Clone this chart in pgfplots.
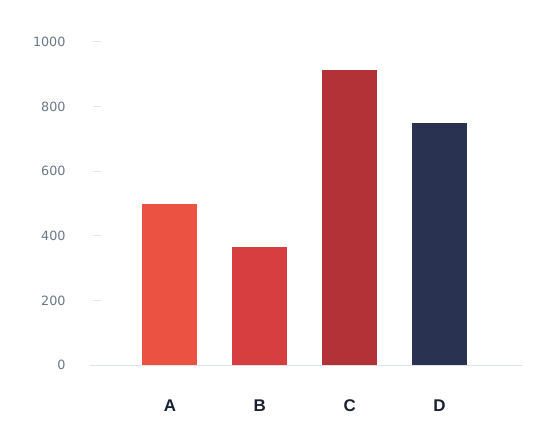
\documentclass[border=0pt]{standalone}
\usepackage{fontspec}
\setmainfont{Liberation Sans}
\newfontfamily\tickfont{DejaVu Sans}
\usepackage{pgfplots}
\pgfplotsset{compat=1.18}

\definecolor{barA}{HTML}{EB5242}
\definecolor{barB}{HTML}{D63E3F}
\definecolor{barC}{HTML}{B33237}
\definecolor{barD}{HTML}{293250}
\definecolor{tickgray}{HTML}{6B7785}
\definecolor{linegray}{HTML}{DDE3EA}
\definecolor{labeldark}{HTML}{1A2033}

\begin{document}
\begin{tikzpicture}[x=1bp,y=1bp]
  \path[use as bounding box] (0,0) rectangle (554,432);
  \begin{axis}[
      at={(93bp,67bp)}, anchor=south west,
      scale only axis,
      width=430bp, height=323bp,
      xmin=-0.857, xmax=3.93,
      ymin=0, ymax=1000,
      ytick={0,200,...,1000},
      xtick={0,1,2,3},
      xticklabels={A,B,C,D},
      axis line style={draw=none},
      tick align=inside,
      x tick style={draw=none},
      y tick style={draw=linegray, line width=1bp},
      major tick length=8bp,
      tick pos=left,
      /pgf/number format/assume math mode=true,
      /pgf/number format/1000 sep={},
      yticklabel style={font=\tickfont\fontsize{12.8}{14}\selectfont, text=tickgray, anchor=east, xshift=-24bp},
      xticklabel style={font=\fontsize{17}{19}\selectfont\bfseries, text=labeldark, anchor=base, yshift=-46bp},
      bar width=55bp,
      clip=false,
    ]
    \draw[linegray, line width=1bp] ([xshift=-3bp]rel axis cs:0,0) -- (rel axis cs:1,0);
    \addplot[ybar, fill=barA, draw=none] coordinates {(0,497)};
    \addplot[ybar, fill=barB, draw=none] coordinates {(1,366)};
    \addplot[ybar, fill=barC, draw=none] coordinates {(2,913)};
    \addplot[ybar, fill=barD, draw=none] coordinates {(3,750)};
  \end{axis}
\end{tikzpicture}
\end{document}
